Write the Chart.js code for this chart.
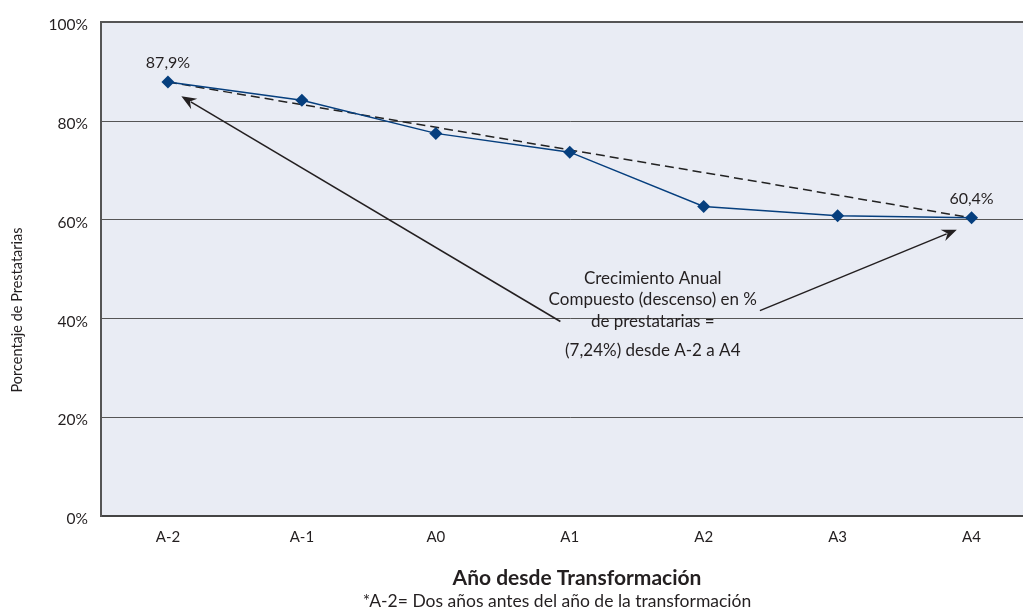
<!DOCTYPE html>
<html lang="es">
<head>
<meta charset="utf-8">
<title>Porcentaje de Prestatarias</title>
<script src="https://cdn.jsdelivr.net/npm/chart.js@4.4.1/dist/chart.umd.min.js"></script>
<style>
  html, body { margin: 0; padding: 0; background: #ffffff; overflow: hidden; }
  #wrap { position: relative; width: 1045px; height: 616px; }
</style>
</head>
<body>
<div id="wrap"><canvas id="chart"></canvas></div>
<script>
// Years relative to the transformation year
const categories = ['A-2', 'A-1', 'A0', 'A1', 'A2', 'A3', 'A4'];
// Share of women borrowers (%)
const borrowerShare = [87.9, 84.2, 77.5, 73.7, 62.7, 60.8, 60.4];
// Y-axis ticks (%)
const yTicks = [0, 20, 40, 60, 80, 100];

// Straight trend between first and last year
const lastIdx = borrowerShare.length - 1;
const trendLine = borrowerShare.map((v, i) => (i === 0 || i === lastIdx) ? v : null);

const FONT = 'Lato, "Open Sans", "DejaVu Sans", sans-serif';
const INK = '#231f20';
const NAVY = '#063f7e';

const fmtPct = v => v.toFixed(1).replace('.', ',') + '%';

// Callout: text lines and arrows given in data coordinates
const callout = {
  x: 3.62,
  lines: [
    { y: 48.1, text: 'Crecimiento Anual' },
    { y: 43.8, text: 'Compuesto (descenso) en %' },
    { y: 39.4, text: 'de prestatarias =' },
    { y: 33.5, text: '(7,24%) desde A-2 a A4' }
  ],
  arrows: [
    { from: [2.93, 39.4], to: [0.10, 85.0] },
    { from: [4.42, 41.6], to: [5.89, 58.0] }
  ]
};

const decorPlugin = {
  id: 'decor',
  beforeDraw(chart) {
    const { ctx, chartArea: a } = chart;
    ctx.save();
    ctx.fillStyle = '#e9ecf4';
    ctx.fillRect(a.left, a.top, a.right - a.left, a.bottom - a.top);
    ctx.restore();
  },
  afterDatasetsDraw(chart) {
    const { ctx, chartArea: a, scales: { x, y } } = chart;
    ctx.save();
    ctx.fillStyle = INK;
    ctx.font = '16px ' + FONT;
    ctx.textAlign = 'center';
    ctx.textBaseline = 'alphabetic';

    // value labels on first and last point
    const meta = chart.getDatasetMeta(0);
    [0, lastIdx].forEach(i => {
      const p = meta.data[i];
      ctx.fillText(fmtPct(borrowerShare[i]), p.x, p.y - 14);
    });

    // callout text
    ctx.font = '17px ' + FONT;
    ctx.textBaseline = 'middle';
    const cx = x.getPixelForValue(callout.x);
    callout.lines.forEach(l => ctx.fillText(l.text, cx, y.getPixelForValue(l.y)));

    // arrows
    ctx.strokeStyle = INK;
    ctx.lineWidth = 1.5;
    callout.arrows.forEach(ar => {
      const x1 = x.getPixelForValue(ar.from[0]), y1 = y.getPixelForValue(ar.from[1]);
      const x2 = x.getPixelForValue(ar.to[0]), y2 = y.getPixelForValue(ar.to[1]);
      const ang = Math.atan2(y2 - y1, x2 - x1);
      const len = 15, half = 6;
      const bx = x2 - len * Math.cos(ang), by = y2 - len * Math.sin(ang);
      ctx.beginPath();
      ctx.moveTo(x1, y1);
      ctx.lineTo(bx + 4 * Math.cos(ang), by + 4 * Math.sin(ang));
      ctx.stroke();
      ctx.beginPath();
      ctx.moveTo(x2, y2);
      ctx.lineTo(bx + half * Math.sin(ang), by - half * Math.cos(ang));
      ctx.lineTo(x2 - (len - 5) * Math.cos(ang), y2 - (len - 5) * Math.sin(ang));
      ctx.lineTo(bx - half * Math.sin(ang), by + half * Math.cos(ang));
      ctx.closePath();
      ctx.fill();
    });

    // axis titles and footnote
    ctx.textBaseline = 'middle';
    ctx.font = 'bold 21px ' + FONT;
    ctx.fillText('Año desde Transformación', 577, 578);
    ctx.font = '17.5px ' + FONT;
    ctx.fillText('*A-2= Dos años antes del año de la transformación', 557, 601);

    ctx.translate(17, 310);
    ctx.rotate(-Math.PI / 2);
    ctx.font = '14.5px ' + FONT;
    ctx.fillText('Porcentaje de Prestatarias', 0, 0);
    ctx.restore();
  }
};

new Chart(document.getElementById('chart'), {
  type: 'line',
  data: {
    labels: categories,
    datasets: [
      {
        label: 'Prestatarias',
        data: borrowerShare,
        borderColor: NAVY,
        backgroundColor: NAVY,
        borderWidth: 1.5,
        pointStyle: 'rectRot',
        pointRadius: 6.5,
        pointBackgroundColor: NAVY,
        pointBorderColor: NAVY,
        pointBorderWidth: 0,
        tension: 0,
        order: 0
      },
      {
        label: 'Tendencia',
        data: trendLine,
        spanGaps: true,
        borderColor: '#222222',
        borderWidth: 1.5,
        borderDash: [9, 5],
        pointRadius: 0,
        tension: 0,
        order: 1
      }
    ]
  },
  options: {
    responsive: true,
    maintainAspectRatio: false,
    animation: false,
    layout: { padding: { top: 21, left: 0, right: 0, bottom: 0 } },
    plugins: {
      legend: { display: false },
      tooltip: { enabled: false },
      title: { display: false }
    },
    scales: {
      x: {
        type: 'category',
        offset: true,
        grid: { display: false, drawTicks: false },
        border: { display: true, color: '#444444', width: 2 },
        ticks: { color: INK, font: { family: FONT, size: 15 }, padding: 12, maxRotation: 0 },
        afterFit(s) { s.height = 100; }
      },
      y: {
        min: 0,
        max: 100,
        afterBuildTicks(s) { s.ticks = yTicks.map(v => ({ value: v })); },
        grid: {
          color: '#555555',
          lineWidth: c => (c.tick && c.tick.value === 100) ? 2 : 1,
          drawTicks: false
        },
        border: { display: true, color: '#555555', width: 2 },
        ticks: {
          color: INK,
          font: { family: FONT, size: 15.5 },
          padding: 13,
          labelOffset: 3,
          callback: v => v + '%'
        },
        afterFit(s) { s.width = 101; }
      }
    }
  },
  plugins: [decorPlugin]
});
</script>
</body>
</html>
